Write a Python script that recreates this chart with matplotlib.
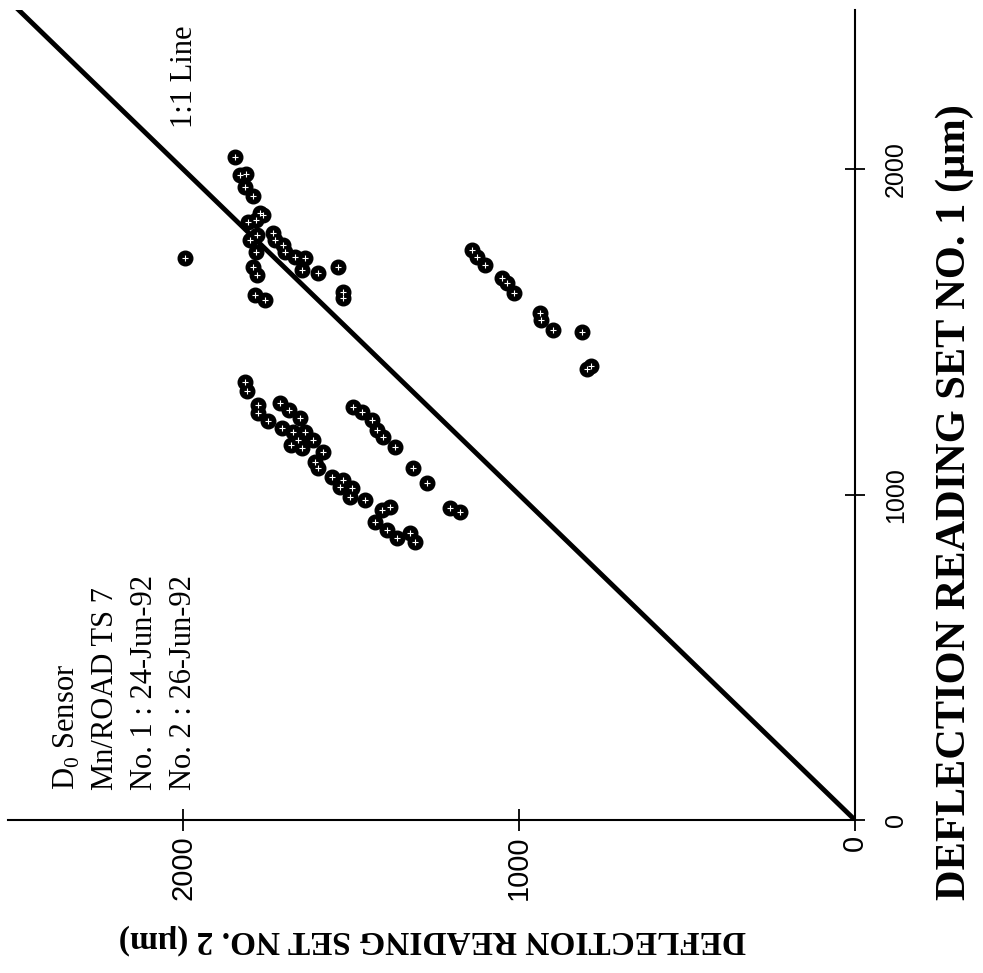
import numpy as np
import matplotlib
matplotlib.use("Agg")
import matplotlib.pyplot as plt

plt.rcParams['mathtext.fontset'] = 'custom'
plt.rcParams['mathtext.rm'] = 'Liberation Serif'

# D0 deflections (um), Mn/ROAD test section 7
set_no1 = [1727, 2037, 1982, 1985, 1945, 1917, 1865, 1837, 1843, 1859,
           1782, 1797, 1803, 1782, 1767, 1745, 1730, 1727, 1690, 1680,
           1699, 1622, 1604, 1745, 1699, 1674, 1613, 1598,
           1751, 1730, 1705, 1665, 1650, 1619, 1558, 1536, 1505, 1499,
           1386, 1395,
           1346, 1318, 1275, 1250, 1226, 1281, 1260, 1204, 1192, 1167,
           1152, 1192, 1235, 1167, 1143, 1131, 1100, 1081, 1054, 1045,
           1023, 1020, 992, 983, 952, 962, 916, 891, 866, 882, 854,
           1269, 1253, 1229, 1198, 1177, 1146, 1081, 1035, 959, 946]
set_no2 = [1994, 1845, 1830, 1812, 1815, 1792, 1771, 1807, 1783, 1762,
           1801, 1780, 1732, 1726, 1702, 1696, 1667, 1637, 1646, 1598,
           1539, 1524, 1524, 1783, 1792, 1780, 1786, 1756,
           1140, 1125, 1101, 1051, 1036, 1015, 938, 935, 899, 812,
           798, 786,
           1815, 1810, 1777, 1777, 1747, 1711, 1685, 1705, 1673, 1658,
           1679, 1637, 1652, 1613, 1646, 1583, 1607, 1598, 1557, 1524,
           1533, 1497, 1503, 1458, 1408, 1384, 1429, 1393, 1363, 1324, 1310,
           1494, 1467, 1438, 1423, 1405, 1369, 1315, 1274, 1205, 1176]

ticks = [0, 1000, 2000]
info_lines = ["D$_\\mathrm{0}$ Sensor", "Mn/ROAD TS 7",
              "No. 1 : 24-Jun-92", "No. 2 : 26-Jun-92"]

fig = plt.figure(figsize=(9.83, 9.73), dpi=100)
ax = fig.add_axes([0.0085, 0.1572, 0.8613, 0.8328])

# 1:1 reference line
ax.plot([0, 2500], [0, 2500], color='black', lw=3.5, solid_capstyle='round')

ax.plot(set_no2, set_no1, 'o', ms=10.5, color='black', mec='black')
ax.plot(set_no2, set_no1, '+', ms=4, color='white', mew=0.8)

ax.set_xlim(2520, 0)
ax.set_ylim(0, 2490)

ax.spines['top'].set_visible(False)
ax.spines['left'].set_visible(False)
ax.spines['bottom'].set_linewidth(1.5)
ax.spines['right'].set_linewidth(1.5)
ax.yaxis.tick_right()

ax.set_xticks(ticks)
ax.set_yticks(ticks)
ax.tick_params(axis='x', direction='inout', length=16, width=1.3,
               labelrotation=90, labelsize=21, pad=3)
ax.tick_params(axis='y', direction='inout', length=14, width=1.3,
               labelrotation=90, labelsize=18, pad=14)
for lab in ax.get_xticklabels() + ax.get_yticklabels():
    lab.set_family('Liberation Sans')
for lab in ax.get_yticklabels():
    lab.set_verticalalignment('center')

serif = 'Liberation Serif'
fig.text(432 / 983, 1 - 940 / 973, "DEFLECTION READING SET NO. 2 (\u00b5m)",
         rotation=180, ha='center', va='center', fontsize=24,
         fontweight='bold', family=serif)
fig.text(955 / 983, 1 - 502 / 973, "DEFLECTION READING SET NO. 1 (\u00b5m)",
         rotation=90, ha='center', va='center', fontsize=30.5,
         fontweight='bold', family=serif)

ax.text(1995, 2126, "1:1 Line", rotation=90, ha='center', va='bottom',
        fontsize=22, family=serif)

for i, line in enumerate(info_lines):
    ax.text(2345 - i * 115, 92, line, rotation=90, ha='center', va='bottom',
            fontsize=22, family=serif)

fig.savefig('out.png', dpi=100)
